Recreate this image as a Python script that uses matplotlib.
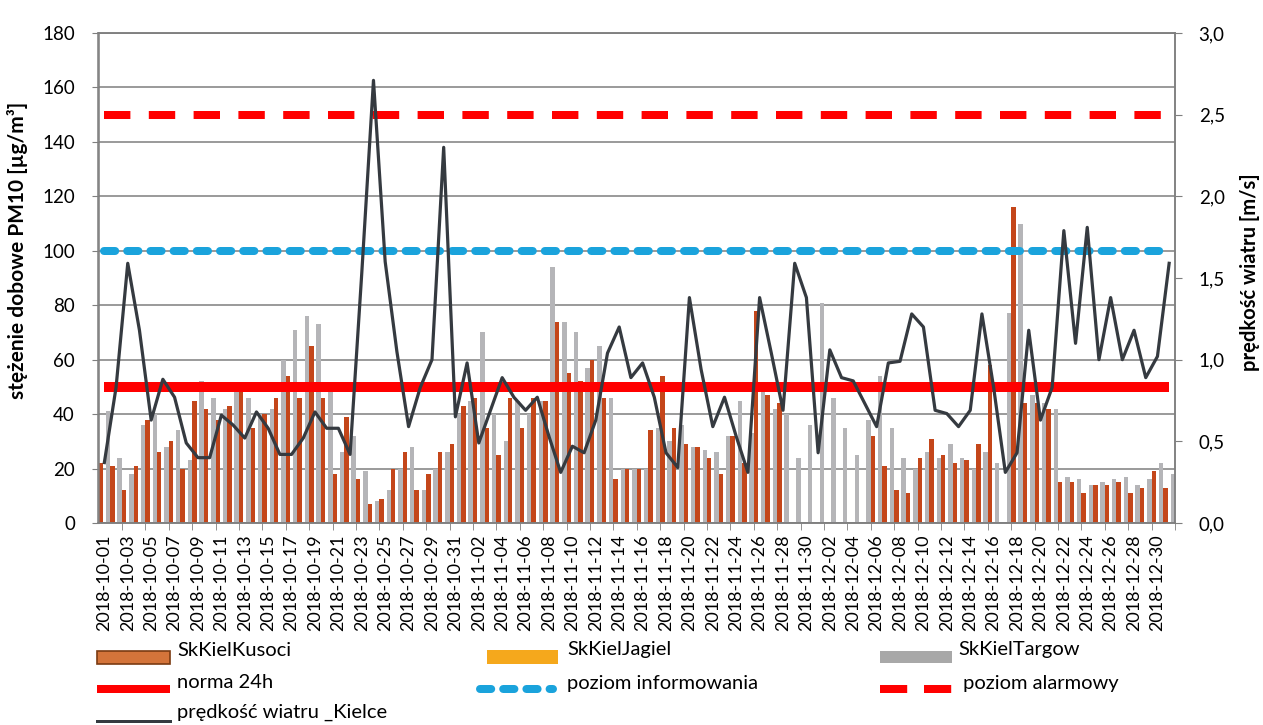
import numpy as np
import matplotlib
matplotlib.use("Agg")
import matplotlib.pyplot as plt
from matplotlib.lines import Line2D
from matplotlib.patches import Rectangle
import pandas as pd

plt.rcParams['font.family'] = ['Lato', 'DejaVu Sans']

# ---------------- data ----------------
dates = pd.date_range('2018-10-01', '2018-12-31', freq='D').strftime('%Y-%m-%d').tolist()

kusoci = [22, 21, 12, 21, 38, 26, 30, 20, 45, 42,
          38, 43, 51, 35, 40, 46, 54, 46, 65, 46,
          18, 39, 16, 7, 9, 20, 26, 12, 18, 26,
          29, 43, 46, 35, 25, 46, 35, 46, 45, 74,
          55, 52, 60, 46, 16, 20, 20, 34, 54, 35,
          29, 28, 24, 18, 32, 22, 78, 47, 44, np.nan,
          np.nan, np.nan, np.nan, np.nan, np.nan, np.nan, 32, 21, 12, 11,
          24, 31, 25, 22, 23, 29, 58, np.nan, 116, 44,
          44, 42, 15, 15, 11, 14, 14, 15, 11, 13,
          19, 13]
jagiel = [np.nan] * 92  # no bars visible for this station
targow = [41, 24, 18, 36, 40, 28, 34, 23, 52, 46,
          42, 50, 46, 40, 42, 60, 71, 76, 73, 50,
          26, 32, 19, 8, 12, 20, 28, 12, 20, 26,
          40, 45, 70, 40, 30, 45, 40, 45, 94, 74,
          70, 57, 65, 46, 20, 20, 20, 35, 30, 36,
          28, 27, 26, 32, 45, 33, 48, 42, 40, 24,
          36, 81, 46, 35, 25, 38, 54, 35, 24, 20,
          26, 24, 29, 24, 20, 26, 22, 77, 110, 47,
          44, 42, 17, 16, 14, 15, 16, 17, 14, 16,
          22, 18]
wind = [0.37, 0.83, 1.59, 1.18, 0.63, 0.88, 0.77, 0.49, 0.40, 0.40,
        0.66, 0.60, 0.52, 0.68, 0.58, 0.42, 0.42, 0.52, 0.68, 0.58,
        0.58, 0.42, 1.53, 2.71, 1.60, 1.05, 0.59, 0.83, 1.00, 2.30,
        0.65, 0.98, 0.49, 0.69, 0.89, 0.77, 0.69, 0.77, 0.53, 0.31,
        0.47, 0.43, 0.63, 1.04, 1.20, 0.89, 0.98, 0.77, 0.43, 0.34,
        1.38, 0.94, 0.59, 0.77, 0.53, 0.31, 1.38, 1.04, 0.69, 1.59,
        1.38, 0.43, 1.06, 0.89, 0.87, 0.73, 0.59, 0.98, 0.99, 1.28,
        1.20, 0.69, 0.67, 0.59, 0.69, 1.28, 0.83, 0.31, 0.43, 1.18,
        0.63, 0.83, 1.79, 1.10, 1.81, 1.00, 1.38, 1.00, 1.18, 0.89,
        1.02, 1.59]
norma_24h = 50
poziom_informowania = 100
poziom_alarmowy = 150

series_names = ['SkKielKusoci', 'SkKielJagiel', 'SkKielTargow', 'norma 24h',
                'poziom informowania', ' poziom alarmowy', 'prędkość wiatru _Kielce']

# ---------------- style ----------------
C_KUS = '#c4461a'
C_JAG = '#f5a81c'
C_TAR = '#b5b5b8'
C_RED = '#ff0000'
C_CYAN = '#1aa3dc'
C_WIND = '#353a40'
C_GRID = '#7f7f7f'

W, H = 1263, 725
fig = plt.figure(figsize=(W / 100, H / 100), dpi=100)

def fx(px):
    return px / W

def fy(py):
    return 1 - py / H

L, R, T, B = 98.5, 1175, 33, 523
ax = fig.add_axes([fx(L), fy(B), fx(R) - fx(L), fy(T) - fy(B)])
ax2 = ax.twinx()

n = len(dates)
x = np.arange(n)
off = 0.31
bw = 0.38
ax.bar(x - off, kusoci, width=bw, color=C_KUS, zorder=2)
ax.bar(x, jagiel, width=bw, color=C_JAG, zorder=2)
ax.bar(x + off, targow, width=bw, color=C_TAR, zorder=2)

px2pt = 72 / 100
ax.plot(x, [norma_24h] * n, color=C_RED, lw=10 * px2pt, solid_capstyle='butt', zorder=3)
ax.plot(x, [poziom_informowania] * n, color=C_CYAN, lw=8 * px2pt,
        dashes=(1.4, 1.5), dash_capstyle='round', zorder=3)
ax.plot(x, [poziom_alarmowy] * n, color=C_RED, lw=8 * px2pt,
        dashes=(3.3, 2.3), dash_capstyle='butt', zorder=3)

ax2.plot(x, wind, color=C_WIND, lw=3.2 * px2pt, zorder=4)

ax.set_xlim(-0.5, n - 0.5)
ax.set_ylim(0, 180)
ax2.set_ylim(0, 3)

ax.set_axisbelow(True)
ax.yaxis.grid(True, color=C_GRID, lw=1.1)
ax.set_yticks(np.arange(0, 181, 20))
ax2.set_yticks(np.arange(0, 3.01, 0.5))
ax2.set_yticklabels([f'{v:.1f}'.replace('.', ',') for v in np.arange(0, 3.01, 0.5)])

ax.set_xticks(x[::2])
ax.set_xticklabels(dates[::2], rotation=90, fontsize=13)
ax.set_xticks(np.arange(1.5, n, 2), minor=True)
ax.tick_params(axis='x', which='major', length=0, pad=8)
ax.tick_params(axis='x', which='minor', length=5, color=C_GRID)
ax.tick_params(axis='y', length=5, color=C_GRID, pad=12, labelsize=13.5)
ax2.tick_params(axis='y', length=5, color=C_GRID, pad=12, labelsize=13.5)

for a in (ax, ax2):
    for s in a.spines.values():
        s.set_color(C_GRID)
        s.set_linewidth(1.1)

fig.text(fx(18), fy(250), 'stężenie dobowe PM10 [µg/m³]', rotation=90, fontsize=15,
         fontweight='bold', ha='center', va='center')
fig.text(fx(1250), fy(272), 'prędkość wiatru [m/s]', rotation=90, fontsize=14.5,
         fontweight='bold', ha='center', va='center')

# ---------------- legend (manual) ----------------
LFS = 14.5
def leg_text(px, py, s):
    fig.text(fx(px), fy(py), s, fontsize=LFS, ha='left', va='center')

tr = fig.transFigure
def rect(x0, y0, w, h, fc, ec='none', lw=0):
    fig.patches.append(Rectangle((fx(x0), fy(y0 + h)), w / W, h / H, transform=tr,
                                 facecolor=fc, edgecolor=ec, linewidth=lw))

def hline(x0, x1, y, **kw):
    fig.lines.append(Line2D([fx(x0), fx(x1)], [fy(y), fy(y)], transform=tr, **kw))

# row 1
rect(97, 651, 73, 13, '#d4743a', '#7b3b12', 1.2)
leg_text(177, 650, series_names[0])
rect(487, 650, 71, 14, C_JAG)
leg_text(567, 650, series_names[1])
rect(880, 651, 72, 12, '#a8a8a8')
leg_text(958, 650, series_names[2])
# row 2
hline(97, 170, 689, color=C_RED, lw=8 * px2pt, solid_capstyle='butt')
leg_text(177, 683, series_names[3])
hline(480, 553, 689, color=C_CYAN, lw=8 * px2pt, dashes=(1.4, 1.5), dash_capstyle='round')
leg_text(567, 683, series_names[4])
hline(880, 953, 689, color=C_RED, lw=8 * px2pt, dashes=(3.4, 2.1), dash_capstyle='butt')
leg_text(958, 683, series_names[5])
# row 3
hline(97, 170, 721, color=C_WIND, lw=3 * px2pt)
leg_text(177, 712, series_names[6])

fig.savefig('out.png', dpi=100, facecolor='white')
